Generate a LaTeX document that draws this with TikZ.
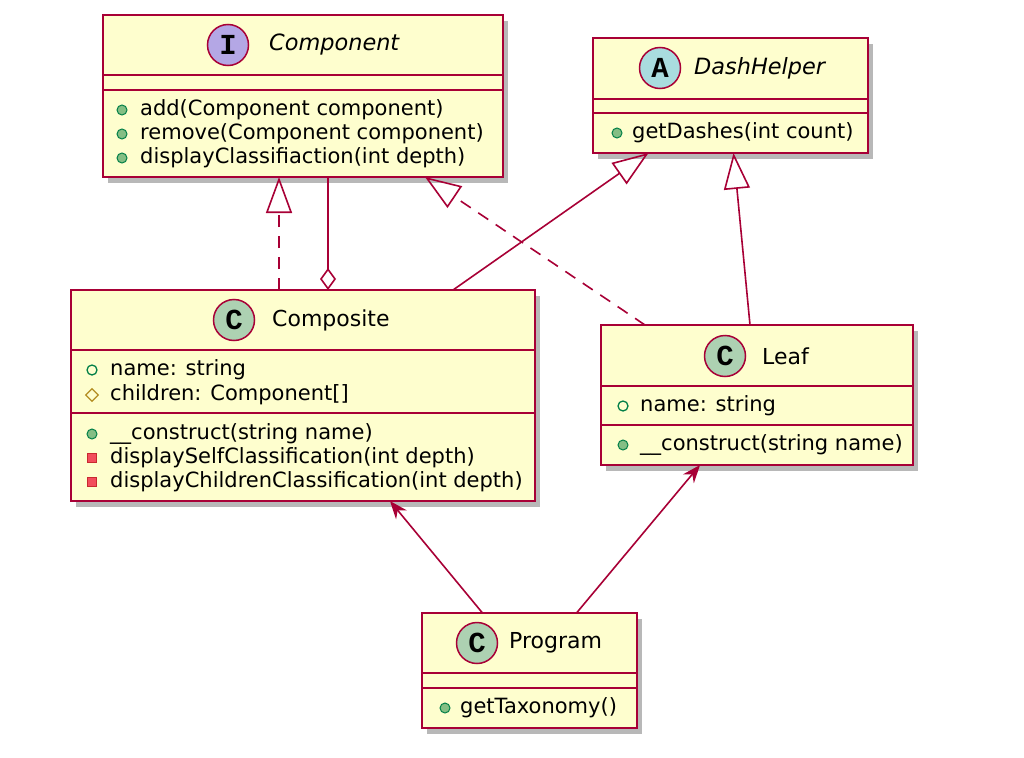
\documentclass[tikz,border=0pt]{standalone}
\usepackage{fontspec}
\setmainfont{DejaVu Sans}
\newfontfamily\spotfont{Liberation Mono}
\usetikzlibrary{arrows.meta,shadows,shapes.geometric}
\definecolor{umlred}{HTML}{A80036}
\definecolor{umlfill}{HTML}{FEFECE}
\definecolor{spotI}{HTML}{B4A7E5}
\definecolor{spotA}{HTML}{A9DCDF}
\definecolor{spotC}{HTML}{ADD1B2}
\definecolor{publine}{HTML}{038048}
\definecolor{pubfill}{HTML}{84BE84}
\definecolor{protline}{HTML}{B38D22}
\definecolor{privline}{HTML}{C82930}
\definecolor{privfill}{HTML}{F24D5C}

\tikzset{
  classbox/.style={draw=umlred, fill=umlfill, line width=2pt, inner sep=0pt, outer sep=0pt,
    drop shadow={shadow xshift=5pt, shadow yshift=-6pt, opacity=.28, fill=black}},
  sepline/.style={draw=umlred, line width=2pt},
  spot/.style={circle, draw=umlred, line width=1.5pt, minimum size=41pt, inner sep=0pt,
    font=\spotfont\bfseries\fontsize{29}{29}\selectfont},
  title/.style={anchor=west, inner sep=0pt, font=\fontsize{22}{26}\selectfont},
  member/.style={anchor=west, inner sep=0pt, text height=15pt, text depth=4pt,
    font=\fontsize{21}{24}\selectfont},
  pubop/.style={circle, draw=publine, fill=pubfill, line width=1pt, minimum size=10pt, inner sep=0pt},
  pubfield/.style={circle, draw=publine, fill=umlfill, line width=1.3pt, minimum size=10pt, inner sep=0pt},
  protfield/.style={diamond, draw=protline, fill=umlfill, line width=1.3pt, minimum size=13pt, inner sep=0pt, shape aspect=1},
  privop/.style={rectangle, draw=privline, fill=privfill, line width=1pt, minimum size=9pt, inner sep=0pt},
  link/.style={draw=umlred, line width=1.6pt},
  realize/.style={link, dash pattern=on 12pt off 9pt, -{Triangle[open, length=36pt, width=26pt]}},
  extend/.style={link, -{Triangle[open, length=36pt, width=26pt]}},
  aggregate/.style={link, -{Diamond[open, length=22pt, width=16pt]}},
  uses/.style={link, -{Stealth[length=18pt, width=14pt, inset=6pt]}},
}

% box: name, left, top, right, bottom
\newcommand\umlbox[5]{%
  \node[classbox, minimum width={#4-#2}, minimum height={#5-#3}] (#1) at ({(#2+#4)/2},{(#3+#5)/2}) {};}
\newcommand\sep[2]{\draw[sepline] (#1.west |- 0,#2) -- (#1.east |- 0,#2);}
% member: name, icon x, text x, y, icon style, text
\newcommand\member[6]{%
  \node[#5] (#1-i) at (#2,#4) {};
  \node[member] (#1) at (#3,#4) {#6};}

\begin{document}
\begin{tikzpicture}[x=1pt, y=-1pt]
  \fill[white] (0,0) rectangle (1024,757);
  \useasboundingbox (0,0) rectangle (1024,757);

  \umlbox{component}{103}{15}{503}{177}
  \sep{component}{75} \sep{component}{90}
  \node[spot, fill=spotI] (component-s) at (228,45) {I};
  \node[title, font=\fontsize{22.4}{26}\selectfont\itshape] (component-t) at (269,45) {Component};
  \member{c-add}{122}{140}{110}{pubop}{add(Component component)}
  \member{c-remove}{122}{140}{134}{pubop}{remove(Component component)}
  \member{c-display}{122}{140}{158}{pubop}{displayClassifiaction(int depth)}

  \umlbox{dashhelper}{593}{38}{868}{153}
  \sep{dashhelper}{99} \sep{dashhelper}{113}
  \node[spot, fill=spotA] (dashhelper-s) at (660,68) {A};
  \node[title, font=\fontsize{22.4}{26}\selectfont\itshape] (dashhelper-t) at (694,68) {DashHelper};
  \member{d-dashes}{617}{632}{133}{pubop}{getDashes(int count)}

  \umlbox{composite}{71}{290}{535}{501}
  \sep{composite}{350} \sep{composite}{413}
  \node[spot, fill=spotC] (composite-s) at (234,320) {C};
  \node[title] (composite-t) at (272,320) {Composite};
  \member{p-name}{92}{110}{370}{pubfield}{name: string}
  \member{p-children}{92}{110}{395}{protfield}{children: Component[]}
  \member{p-construct}{92}{110}{434}{pubop}{\_\_construct(string name)}
  \member{p-self}{92}{110}{458}{privop}{displaySelfClassification(int depth)}
  \member{p-kids}{92}{110}{482}{privop}{displayChildrenClassification(int depth)}

  \umlbox{leaf}{601}{325}{913}{465}
  \sep{leaf}{386} \sep{leaf}{425}
  \node[spot, fill=spotC] (leaf-s) at (725,356) {C};
  \node[title] (leaf-t) at (762,356) {Leaf};
  \member{l-name}{623}{640}{406}{pubfield}{name: string}
  \member{l-construct}{623}{640}{445}{pubop}{\_\_construct(string name)}

  \umlbox{program}{422}{613}{637}{728}
  \sep{program}{673} \sep{program}{688}
  \node[spot, fill=spotC] (program-s) at (477,643) {C};
  \node[title] (program-t) at (509,643) {Program};
  \member{g-taxonomy}{445}{460}{708}{pubop}{getTaxonomy()}

  \draw[realize] ([xshift=-24pt]composite.north) -- ([xshift=-24pt]component.south);
  \draw[aggregate] ([xshift=25pt]component.south) -- ([xshift=25pt]composite.north);
  \draw[realize] ([xshift=-112pt]leaf.north) -- ([xshift=122pt]component.south);
  \draw[extend] ([xshift=150pt]composite.north) -- ([xshift=-82pt]dashhelper.south);
  \draw[extend] ([xshift=-7pt]leaf.north) -- ([xshift=3pt]dashhelper.south);
  \draw[uses] ([xshift=-47pt]program.north) -- ([xshift=87pt]composite.south);
  \draw[uses] ([xshift=47pt]program.north) -- ([xshift=-57pt]leaf.south);
\end{tikzpicture}
\end{document}
